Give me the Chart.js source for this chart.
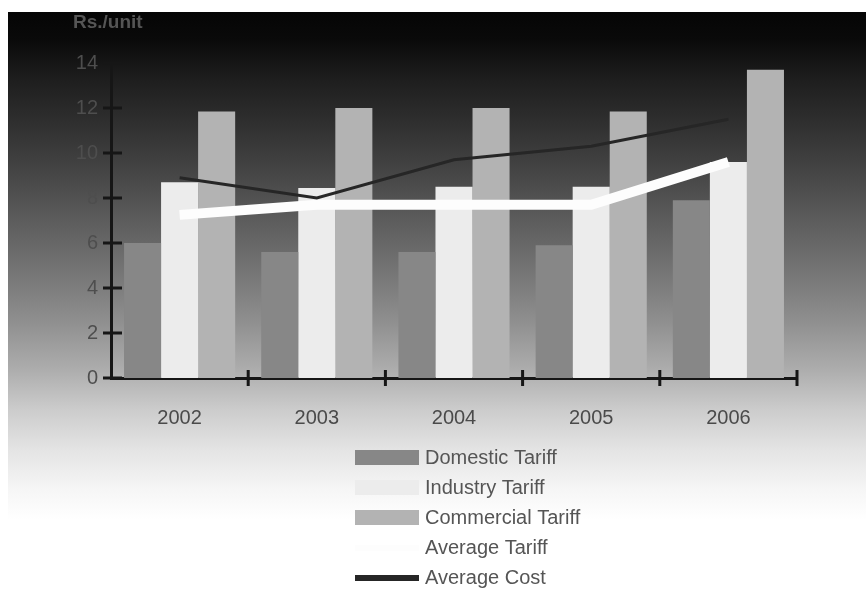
<!DOCTYPE html>
<html>
<head>
<meta charset="utf-8">
<script src="https://cdn.jsdelivr.net/npm/chart.js@4.4.1/dist/chart.umd.min.js"></script>
<style>
html,body{margin:0;padding:0;background:#fff;}
#wrap{width:866px;height:593px;}
</style>
</head>
<body>
<div id="wrap"><canvas id="canvas1" width="866" height="593"></canvas></div>
<script>
var years = ['2002', '2003', '2004', '2005', '2006'];
var domesticTariff = [6.0, 5.6, 5.6, 5.9, 7.9];
var industryTariff = [8.7, 8.45, 8.5, 8.5, 9.6];
var commercialTariff = [11.85, 12.0, 12.0, 11.85, 13.7];
var averageTariff = [7.25, 7.7, 7.7, 7.7, 9.6];
var averageCost = [8.9, 8.0, 9.7, 10.3, 11.5];
var yMax = 14;
var yStep = 2;
var axisTitle = 'Rs./unit';

// background gradient, axis title, crossing ticks and the stacked legend
var decorations = {
    id: 'decorations',
    beforeDraw: function(chart){
        var ctx = chart.ctx;
        ctx.save();
        ctx.fillStyle = '#ffffff';
        ctx.fillRect(0, 0, chart.width, chart.height);
        var g = ctx.createLinearGradient(0, 12, 0, chart.height);
        g.addColorStop(0, '#050505');
        g.addColorStop(0.048, '#0a0a0a');
        g.addColorStop(0.117, '#1e1e1e');
        g.addColorStop(0.186, '#2e2e2e');
        g.addColorStop(0.272, '#444444');
        g.addColorStop(0.358, '#5c5c5c');
        g.addColorStop(0.444, '#747474');
        g.addColorStop(0.530, '#8e8e8e');
        g.addColorStop(0.616, '#adadad');
        g.addColorStop(0.685, '#cccccc');
        g.addColorStop(0.754, '#e4e4e4');
        g.addColorStop(0.823, '#f6f6f6');
        g.addColorStop(0.874, '#ffffff');
        g.addColorStop(1, '#ffffff');
        ctx.fillStyle = g;
        ctx.fillRect(8, 12, chart.width - 8, chart.height - 12);
        ctx.fillStyle = '#555555';
        ctx.font = 'bold 19px "Liberation Sans"';
        ctx.textBaseline = 'middle';
        ctx.fillText(axisTitle, 73, 23);
        ctx.restore();
    },
    afterDraw: function(chart){
        var ctx = chart.ctx;
        var xs = chart.scales.x;
        var ys = chart.scales.y;
        ctx.save();
        ctx.strokeStyle = '#161616';
        ctx.lineWidth = 3;
        ctx.beginPath();
        ys.ticks.forEach(function(t){
            var y = ys.getPixelForValue(t.value);
            ctx.moveTo(ys.right - 8, y);
            ctx.lineTo(ys.right + 11, y);
        });
        var step = (xs.right - xs.left) / years.length;
        for (var i = 1; i <= years.length; i++) {
            var x = xs.left + i * step;
            ctx.moveTo(x, xs.top - 8);
            ctx.lineTo(x, xs.top + 8);
        }
        ctx.moveTo(ys.right - 8, xs.top);
        ctx.lineTo(ys.right, xs.top);
        ctx.stroke();

        // legend
        ctx.font = '20px "Liberation Sans"';
        ctx.textBaseline = 'middle';
        chart.data.datasets.forEach(function(ds, i){
            var y = 458 + i * 30;
            if (ds.type === 'line') {
                ctx.strokeStyle = ds.borderColor;
                ctx.lineWidth = 6;
                ctx.beginPath();
                ctx.moveTo(355, y);
                ctx.lineTo(419, y);
                ctx.stroke();
            } else {
                ctx.fillStyle = ds.backgroundColor;
                ctx.fillRect(355, y - 8, 64, 15);
            }
            ctx.fillStyle = '#555555';
            ctx.fillText(ds.label, 425, y);
        });
        ctx.restore();
    }
};

var ctx = document.getElementById('canvas1').getContext('2d');
var myChart = new Chart(ctx, {
    type: 'bar',
    data: {
        labels: years,
        datasets: [{
            label: 'Domestic Tariff',
            data: domesticTariff,
            backgroundColor: '#878787',
            order: 3
        }, {
            label: 'Industry Tariff',
            data: industryTariff,
            backgroundColor: '#ececec',
            order: 3
        }, {
            label: 'Commercial Tariff',
            data: commercialTariff,
            backgroundColor: '#b3b3b3',
            order: 3
        }, {
            type: 'line',
            label: 'Average Tariff',
            data: averageTariff,
            borderColor: '#fdfdfd',
            backgroundColor: '#fdfdfd',
            borderWidth: 10,
            pointRadius: 0,
            tension: 0,
            order: 2
        }, {
            type: 'line',
            label: 'Average Cost',
            data: averageCost,
            borderColor: '#262626',
            backgroundColor: '#262626',
            borderWidth: 3,
            pointRadius: 0,
            tension: 0,
            order: 1
        }]
    },
    options: {
        responsive: false,
        animation: false,
        categoryPercentage: 0.81,
        barPercentage: 1.0,
        layout: {
            padding: { top: 63, right: 69, left: 0, bottom: 0 }
        },
        scales: {
            x: {
                grid: { display: false, drawTicks: false },
                border: { display: true, color: '#161616', width: 3 },
                ticks: {
                    padding: 28,
                    color: '#4a4a4a',
                    font: { family: 'Liberation Sans', size: 20 }
                },
                afterFit: function(scale){ scale.height = 215; }
            },
            y: {
                min: 0,
                max: yMax,
                grid: { display: false, drawTicks: false },
                border: { display: true, color: '#161616', width: 3 },
                ticks: {
                    stepSize: yStep,
                    padding: 13,
                    color: '#4e4e4e',
                    font: { family: 'Liberation Sans', size: 20 }
                },
                afterFit: function(scale){ scale.width = 111; }
            }
        },
        plugins: {
            legend: { display: false },
            tooltip: { enabled: false }
        }
    },
    plugins: [decorations]
});
</script>
</body>
</html>
